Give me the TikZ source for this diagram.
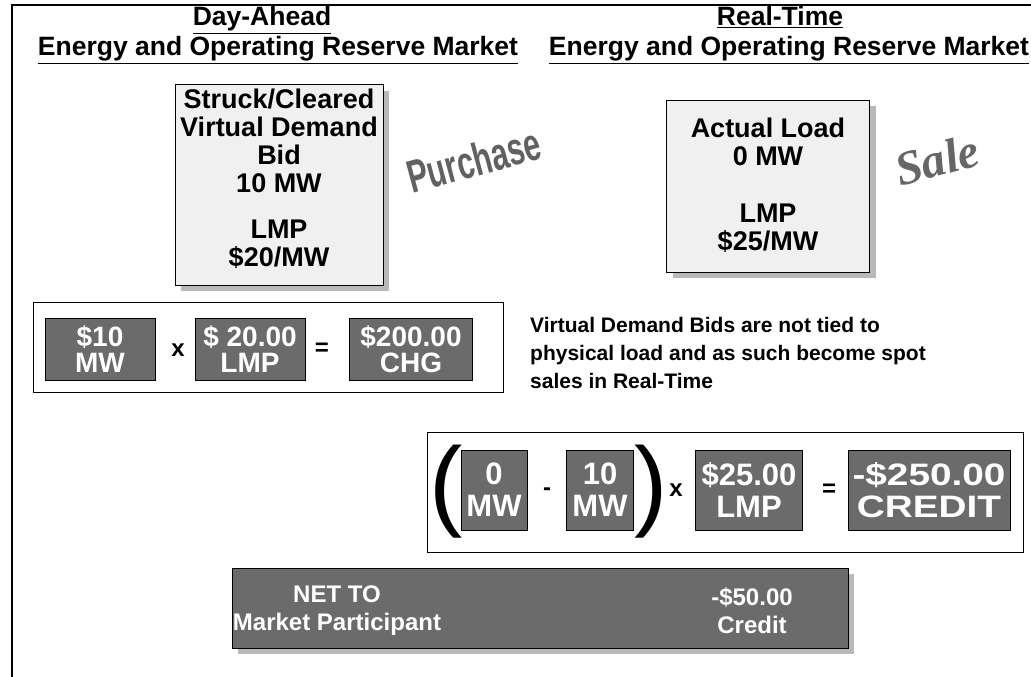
\documentclass[tikz,border=0pt]{standalone}
\usepackage{fontspec}
\setmainfont{Liberation Sans}
\newfontfamily\serifit{Liberation Serif}
\usetikzlibrary{shadows}
\begin{document}
\begin{tikzpicture}[x=1pt,y=-1pt,
  titletext/.style={font=\bfseries\fontsize{26.5}{28}\selectfont, inner sep=0pt, anchor=base},
  lightbox/.style={draw=black, line width=1pt, fill=gray!12, inner sep=0pt,
    drop shadow={shadow xshift=6pt, shadow yshift=-6pt, fill=gray!55, opacity=1}},
  boxtext/.style={font=\bfseries\fontsize{27}{28}\selectfont, align=center, inner sep=0pt},
  framebox/.style={draw=black, line width=1pt, fill=white, inner sep=0pt},
  darkbox/.style={draw=black, line width=1pt, fill=black!58, inner sep=0pt, text=white,
    font=\bfseries\fontsize{28}{26}\selectfont, align=center},
  bigdark/.style={darkbox, font=\bfseries\fontsize{31}{32}\selectfont},
  optext/.style={font=\bfseries\fontsize{24}{25}\selectfont, inner sep=0pt},
  netbox/.style={draw=black, line width=1pt, fill=black!58, inner sep=0pt,
    drop shadow={shadow xshift=6pt, shadow yshift=-6pt, fill=gray!55, opacity=1}},
  nettext/.style={font=\bfseries\fontsize{24}{28}\selectfont, text=white, align=center, inner sep=0pt},
  paren/.style={font=\fontsize{100}{100}\selectfont, inner sep=0pt},
  bodytext/.style={font=\bfseries\fontsize{21}{28}\selectfont, align=left, inner sep=0pt, anchor=north west}
]
\useasboundingbox (0,0) rectangle (1031,677);
% frame
\coordinate (ftl) at (12,5);
\coordinate (ftr) at (1031,5);
\coordinate (fbl) at (12,677);
\draw[line width=1.5pt] (fbl) -- (ftl) -- (ftr);

% titles
\node[titletext] (t1) at (262,26) {\underline{Day-Ahead}};
\node[titletext] (t2) at (278,56) {\underline{Energy and Operating Reserve Market}};
\node[titletext] (t3) at (780,26) {\underline{Real-Time}};
\node[titletext] (t4) at (789,56) {\underline{Energy and Operating Reserve Market}};

% day-ahead box
\node[lightbox, minimum width=208pt, minimum height=200pt] (b1) at (279,185) {};
\node[boxtext] (b1t) at (279,179) {Struck/Cleared\\Virtual Demand\\Bid\\10 MW\\[18pt]LMP\\\$20/MW};

\node[font=\bfseries\fontsize{46}{46}\selectfont, text=black!62, rotate=15, inner sep=0pt] (purchase) at (474,160) {\scalebox{0.66}[1]{Purchase}};

% real-time box
\node[lightbox, minimum width=203pt, minimum height=172pt] (b2) at (768,186) {};
\node[boxtext] (b2t) at (768,185) {Actual Load\\0 MW\\[29pt]LMP\\\$25/MW};

\node[font=\serifit\bfseries\itshape\fontsize{48}{48}\selectfont, text=black!60, rotate=15, inner sep=0pt] (sale) at (937,160) {Sale};

% day-ahead formula
\node[framebox, minimum width=470pt, minimum height=90pt] (f1) at (268,347) {};
\node[darkbox, minimum width=110pt, minimum height=62pt] (f1a) at (100,349) {\$10\\MW};
\node[optext] (f1x) at (178,350) {x};
\node[darkbox, minimum width=110pt, minimum height=62pt] (f1b) at (250,349) {\$ 20.00\\LMP};
\node[optext] (f1eq) at (322,349) {=};
\node[darkbox, minimum width=123pt, minimum height=62pt] (f1c) at (411,349) {\$200.00\\CHG};

% explanation
\node[bodytext] (expl) at (530,317) {Virtual Demand Bids are not tied to\\physical load and as such become spot\\sales in Real-Time};

% real-time formula
\node[framebox, minimum width=596pt, minimum height=120pt] (f2) at (725,492) {};
\node[paren] (lp) at (446,492) {(};
\node[bigdark, minimum width=66pt, minimum height=80pt] (f2a) at (494,490) {0\\MW};
\node[optext] (f2m) at (547,492) {-};
\node[bigdark, minimum width=67pt, minimum height=80pt] (f2b) at (600,490) {10\\MW};
\node[paren] (rp) at (651,492) {)};
\node[optext] (f2x) at (676,490) {x};
\node[bigdark, minimum width=107pt, minimum height=80pt] (f2c) at (749,490) {\$25.00\\LMP};
\node[optext] (f2eq) at (829,490) {=};
\node[bigdark, minimum width=162pt, minimum height=80pt] (f2d) at (929,490) {\scalebox{1.25}[1]{-\$250.00}\\\scalebox{1.25}[1]{CREDIT}};

% net
\node[netbox, minimum width=616pt, minimum height=80pt] (net) at (540,608) {};
\node[nettext] (netl) at (337,611) {NET TO\\Market Participant};
\node[nettext] (netr) at (752,611) {-\$50.00\\Credit};
\end{tikzpicture}
\end{document}
